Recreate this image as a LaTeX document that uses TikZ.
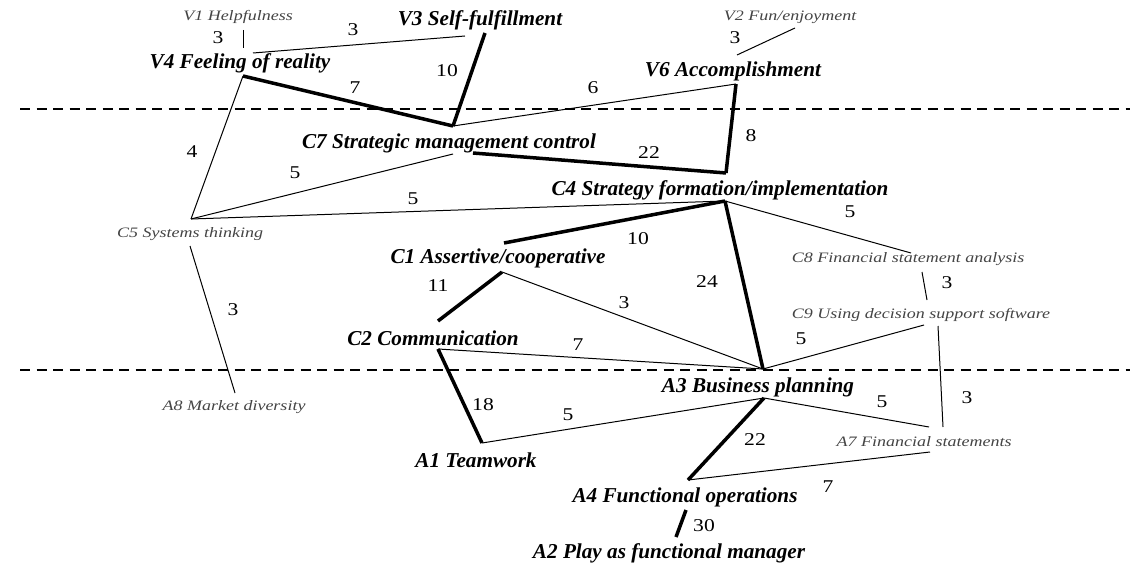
\documentclass[tikz,border=0pt]{standalone}
\usepackage{fontspec}
\setmainfont{Liberation Serif}
\newfontfamily\numfont[FakeStretch=1.2]{Liberation Serif}
\newfontfamily\smallfont[FakeStretch=1.25]{Liberation Serif}
\definecolor{lblgray}{HTML}{444444}
\begin{document}
\begin{tikzpicture}[x=1pt,y=-1pt,
  big/.style={inner sep=0pt,font=\fontsize{21.2}{23}\selectfont\bfseries\itshape},
  small/.style={inner sep=0pt,text=lblgray,font=\smallfont\fontsize{14.4}{16}\selectfont\itshape},
  num/.style={inner sep=0pt,font=\numfont\fontsize{18}{20}\selectfont},
  thin/.style={line width=1pt},
  thick/.style={line width=3.5pt},
  sep/.style={line width=1.5pt,dash pattern=on 10pt off 6.5pt}]
\useasboundingbox (0,0) rectangle (1131,564);

% separators
\coordinate (s1l) at (20,109); \coordinate (s1r) at (1130,109);
\coordinate (s2l) at (20,370); \coordinate (s2r) at (1130,370);
\draw[sep] (s1l) -- (s1r);
\draw[sep] (s2l) -- (s2r);

% text nodes
\node[small] (V1) at (238,17) {V1 Helpfulness};
\node[big]   (V3) at (480,20) {V3 Self-fulfillment};
\node[small] (V2) at (790,17) {V2 Fun/enjoyment};
\node[big]   (V4) at (240,63) {V4 Feeling of reality};
\node[big]   (V6) at (733,71) {V6 Accomplishment};
\node[big]   (C7) at (449,143) {C7 Strategic management control};
\node[big]   (C4) at (720,190) {C4 Strategy formation/implementation};
\node[small] (C5) at (190,234) {C5 Systems thinking};
\node[big]   (C1) at (498,258) {C1 Assertive/cooperative};
\node[small] (C8) at (908,259) {C8 Financial statement analysis};
\node[small] (C9) at (921,315) {C9 Using decision support software};
\node[big]   (C2) at (433,338) {C2 Communication};
\node[big]   (A3) at (758,387) {A3 Business planning};
\node[small] (A8) at (234,407) {A8 Market diversity};
\node[small] (A7) at (924,442) {A7 Financial statements};
\node[big]   (A1) at (476,460) {A1 Teamwork};
\node[big]   (A4) at (685,497) {A4 Functional operations};
\node[big]   (A2) at (669,553) {A2 Play as functional manager};

% attachment points
\coordinate (v1b) at (243,30);  \coordinate (v4t) at (243,48);
\coordinate (v4r) at (253,53);  \coordinate (v3l) at (465,36);
\coordinate (v4b) at (243,76);  \coordinate (v3b) at (485,33);
\coordinate (c7t) at (453,126); \coordinate (v6c) at (736,84);
\coordinate (v2l) at (795,28);  \coordinate (v6t) at (737,55);
\coordinate (c4t) at (726,173); \coordinate (c7r) at (473,153);
\coordinate (c5t) at (191,219); \coordinate (c7l) at (453,154);
\coordinate (c4b) at (725,201); \coordinate (c5b) at (190,246);
\coordinate (a8t) at (235,393); \coordinate (c1t) at (504,243);
\coordinate (a3t) at (763,369); \coordinate (c8t) at (911,253);
\coordinate (c8b) at (922,272); \coordinate (c9t) at (927,300);
\coordinate (c1b) at (502,272); \coordinate (c2t) at (438,321);
\coordinate (c2b) at (438,349); \coordinate (a1t) at (482,443);
\coordinate (c9l) at (924,325); \coordinate (c9b) at (938,326);
\coordinate (a7t) at (943,427); \coordinate (a3b) at (764,398);
\coordinate (a7l) at (929,427); \coordinate (a4t) at (688,480);
\coordinate (a7b) at (930,452); \coordinate (a4b) at (686,510);
\coordinate (a2t) at (676,537);

% connectors
\draw[thin]  (v1b) -- (v4t);
\draw[thin]  (v4r) -- (v3l);
\draw[thick] (v4b) -- (c7t);
\draw[thick] (v3b) -- (c7t);
\draw[thin]  (c7t) -- (v6c);
\draw[thin]  (v2l) -- (v6t);
\draw[thick] (v6c) -- (c4t);
\draw[thick] (c7r) -- (c4t);
\draw[thin]  (v4b) -- (c5t);
\draw[thin]  (c5t) -- (c7l);
\draw[thin]  (c5t) -- (c4b);
\draw[thin]  (c5b) -- (a8t);
\draw[thick] (c4b) -- (c1t);
\draw[thick] (c4b) -- (a3t);
\draw[thin]  (c4b) -- (c8t);
\draw[thin]  (c8b) -- (c9t);
\draw[thick] (c1b) -- (c2t);
\draw[thin]  (c1b) -- (a3t);
\draw[thin]  (c2b) -- (a3t);
\draw[thick] (c2b) -- (a1t);
\draw[thin]  (a3t) -- (c9l);
\draw[thin]  (c9b) -- (a7t);
\draw[thin]  (a3b) -- (a1t);
\draw[thin]  (a3b) -- (a7l);
\draw[thick] (a3b) -- (a4t);
\draw[thin]  (a4t) -- (a7b);
\draw[thick] (a4b) -- (a2t);

% weights
\node[num] (n1)  at (218,38)  {3};
\node[num] (n2)  at (353,30)  {3};
\node[num] (n3)  at (355,88)  {7};
\node[num] (n4)  at (447,71)  {10};
\node[num] (n5)  at (593,88)  {6};
\node[num] (n6)  at (735,38)  {3};
\node[num] (n7)  at (751,136) {8};
\node[num] (n8)  at (649,153) {22};
\node[num] (n9)  at (192,152) {4};
\node[num] (n10) at (295,173) {5};
\node[num] (n11) at (413,199) {5};
\node[num] (n12) at (233,310) {3};
\node[num] (n13) at (638,239) {10};
\node[num] (n14) at (707,282) {24};
\node[num] (n15) at (850,212) {5};
\node[num] (n16) at (947,283) {3};
\node[num] (n17) at (438,286) {11};
\node[num] (n18) at (624,303) {3};
\node[num] (n19) at (578,345) {7};
\node[num] (n20) at (483,405) {18};
\node[num] (n21) at (801,339) {5};
\node[num] (n22) at (967,398) {3};
\node[num] (n23) at (568,415) {5};
\node[num] (n24) at (882,402) {5};
\node[num] (n25) at (755,440) {22};
\node[num] (n26) at (828,487) {7};
\node[num] (n27) at (704,526) {30};
\end{tikzpicture}
\end{document}
